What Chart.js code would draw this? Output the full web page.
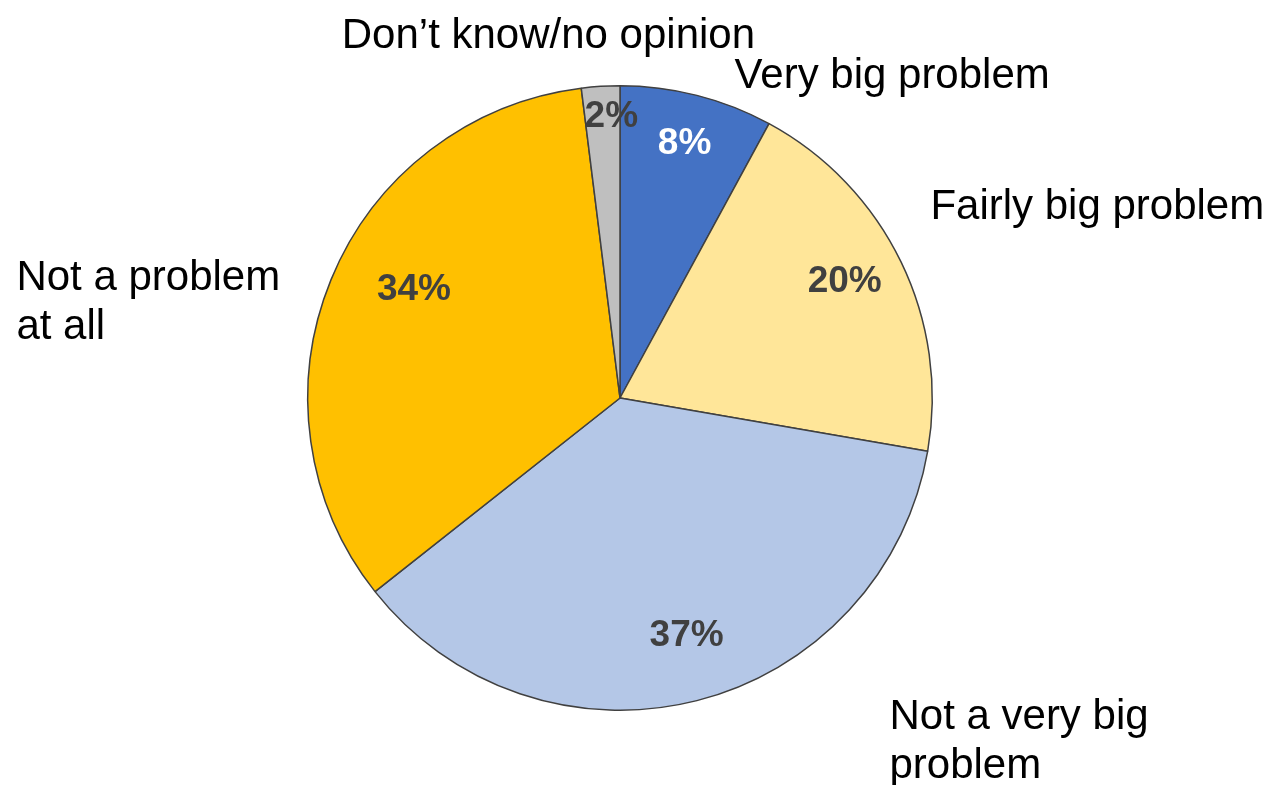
<!DOCTYPE html>
<html>
<head>
<meta charset="utf-8">
<title>Problem rating</title>
<script src="https://cdn.jsdelivr.net/npm/chart.js@4"></script>
<style>
  html, body { margin: 0; padding: 0; background: #ffffff; }
  #wrap { width: 1273px; height: 785px; }
</style>
</head>
<body>
<div id="wrap"><canvas id="pieChart" width="1273" height="785"></canvas></div>
<script>
// Survey answers, clockwise from twelve o'clock
const categories = [
  "Very big problem",
  "Fairly big problem",
  "Not a very big problem",
  "Not a problem at all",
  "Don’t know/no opinion",
];
const shares = [8, 20, 37, 34, 2];
const sliceColors = ["#4472C4", "#FFE699", "#B4C7E7", "#FFC000", "#BFBFBF"];
const valueColors = ["#FFFFFF", "#404040", "#404040", "#404040", "#404040"];

// Category captions, broken into lines
const captionLines = [
  ["Very big problem"],
  ["Fairly big problem"],
  ["Not a very big", "problem"],
  ["Not a problem", "at all"],
  ["Don’t know/no opinion"],
];

// Caption anchors (left edge, first baseline) in units of the pie radius from its centre
const captionAnchor = [
  [0.367, -0.994],
  [0.994, -0.572],
  [0.863, 1.061],
  [-1.933, -0.345],
  [-0.891, -1.12],
];
// Value labels: distance from centre (fraction of radius) and angle nudge (degrees)
const valueRadius = [0.84, 0.81, 0.79, 0.745, 0.9];
const valueNudge = [0, -1.5, -1.4, 5.4, 1.8];

const pieLabels = {
  id: "pieLabels",
  afterDatasetsDraw(chart) {
    const ctx = chart.ctx;
    const arcs = chart.getDatasetMeta(0).data;
    ctx.save();

    // percentages inside the slices
    ctx.font = "bold 37px 'Liberation Sans', Arial, sans-serif";
    ctx.textAlign = "center";
    ctx.textBaseline = "middle";
    arcs.forEach((arc, i) => {
      const { x, y, startAngle, endAngle, outerRadius } = arc.getProps(
        ["x", "y", "startAngle", "endAngle", "outerRadius"], true);
      const mid = (startAngle + endAngle) / 2 + valueNudge[i] * Math.PI / 180;
      const r = outerRadius * valueRadius[i];
      ctx.fillStyle = valueColors[i];
      ctx.fillText(shares[i] + "%", x + Math.cos(mid) * r, y + Math.sin(mid) * r);
    });

    // category captions outside the pie
    ctx.font = "42px 'Liberation Sans', Arial, sans-serif";
    ctx.textAlign = "left";
    ctx.textBaseline = "alphabetic";
    ctx.fillStyle = "#000000";
    arcs.forEach((arc, i) => {
      const { x, y, outerRadius } = arc.getProps(["x", "y", "outerRadius"], true);
      const lx = x + captionAnchor[i][0] * outerRadius;
      const ly = y + captionAnchor[i][1] * outerRadius;
      captionLines[i].forEach((line, j) => {
        ctx.fillText(line, lx, ly + j * 49);
      });
    });
    ctx.restore();
  },
};

const ctx = document.getElementById("pieChart").getContext("2d");
const pieChart = new Chart(ctx, {
  type: "pie",
  data: {
    labels: categories,
    datasets: [
      {
        data: shares,
        backgroundColor: sliceColors,
        borderColor: "#404040",
        borderWidth: 1.5,
      },
    ],
  },
  options: {
    responsive: false,
    animation: false,
    layout: {
      padding: { top: 85, bottom: 74, left: 307, right: 340 },
    },
    plugins: {
      legend: { display: false },
      tooltip: { enabled: false },
    },
  },
  plugins: [pieLabels],
});
</script>
</body>
</html>
